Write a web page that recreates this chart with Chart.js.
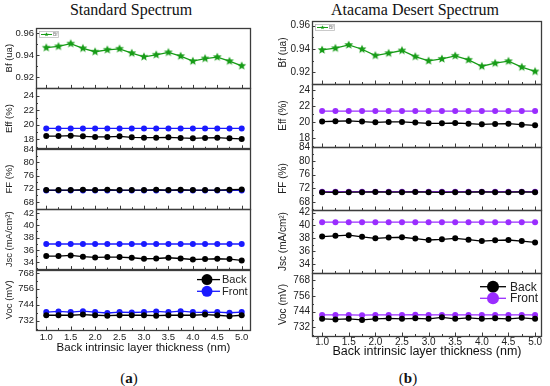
<!DOCTYPE html>
<html>
<head>
<meta charset="utf-8">
<script src="https://cdn.jsdelivr.net/npm/chart.js@4.4.1/dist/chart.umd.min.js"></script>
<style>
  body { margin: 0; width: 550px; height: 386px; background: #fff; position: relative; overflow: hidden; }
  canvas { position: absolute; top: 0; }
  .title { position: absolute; top: 2px; width: 220px; font-family: 'Liberation Serif', serif; font-size: 16px; line-height: 16px; color: #111; text-align: center; white-space: nowrap; }
  .cap { position: absolute; top: 370px; width: 60px; font-family: 'Liberation Serif', serif; font-size: 15px; line-height: 16px; color: #111; text-align: center; }
</style>
</head>
<body>
<div class="title" style="left:21px">Standard Spectrum</div>
<div class="title" style="left:305px">Atacama Desert Spectrum</div>
<canvas id="left" width="275" height="360" style="left:0"></canvas>
<canvas id="right" width="275" height="360" style="left:275px"></canvas>
<div class="cap" style="left:99px">(<b>a</b>)</div>
<div class="cap" style="left:378px">(<b>b</b>)</div>
<script>
// back intrinsic layer thickness (nm)
const thickness = [1.0, 1.25, 1.5, 1.75, 2.0, 2.25, 2.5, 2.75, 3.0, 3.25, 3.5, 3.75, 4.0, 4.25, 4.5, 4.75, 5.0];
const xTicks = [1.0, 1.5, 2.0, 2.5, 3.0, 3.5, 4.0, 4.5, 5.0];

// tick labels of the five stacked axes
const bfTicks = [0.92, 0.94, 0.96];
const effTicks = [18, 20, 22, 24];
const ffTicks = [68, 72, 76, 80, 84];
const jscTicks = [34, 36, 38, 40, 42];
const vocTicks = [732, 744, 756, 768];

// Standard spectrum
const stdBf = [0.9468, 0.9480, 0.9505, 0.9462, 0.9431, 0.9449, 0.9458, 0.9418, 0.9385, 0.9403, 0.9425, 0.9391, 0.9345, 0.9369, 0.9382, 0.9345, 0.9302];
const stdEffBack = [18.45, 18.45, 18.50, 18.41, 18.33, 18.33, 18.41, 18.28, 18.23, 18.23, 18.28, 18.19, 18.14, 18.19, 18.23, 18.14, 18.05];
const stdEffFront = [19.5, 19.5, 19.5, 19.5, 19.5, 19.5, 19.5, 19.5, 19.5, 19.5, 19.5, 19.5, 19.5, 19.5, 19.5, 19.5, 19.5];
const stdFFBack = [71.6, 71.6, 71.6, 71.7, 71.6, 71.7, 71.6, 71.6, 71.6, 71.7, 71.6, 71.7, 71.6, 71.6, 71.6, 71.7, 71.8];
const stdFFFront = [71.5, 71.5, 71.5, 71.5, 71.5, 71.5, 71.5, 71.5, 71.5, 71.5, 71.5, 71.5, 71.5, 71.5, 71.5, 71.5, 71.5];
const stdJscBack = [35.0, 35.0, 35.1, 34.9, 34.78, 34.83, 34.83, 34.72, 34.56, 34.6, 34.72, 34.6, 34.44, 34.5, 34.56, 34.5, 34.28];
const stdJscFront = [36.95, 36.95, 36.95, 36.95, 36.95, 36.95, 36.95, 36.95, 36.95, 36.95, 36.95, 36.95, 36.95, 36.95, 36.95, 36.95, 36.95];
const stdVocBack = [736.1, 736.1, 736.1, 736.6, 736.1, 735.8, 736.1, 736.1, 736.1, 735.8, 736.1, 736.1, 736.1, 736.6, 736.1, 735.4, 736.1];
const stdVocFront = [738.5, 739.0, 738.5, 739.2, 738.5, 737.8, 738.5, 738.2, 738.5, 739.0, 738.5, 739.2, 738.5, 738.2, 738.5, 738.0, 738.5];

// Atacama desert spectrum
const atBf = [0.9391, 0.9406, 0.9434, 0.9397, 0.9343, 0.9363, 0.9386, 0.9334, 0.9297, 0.9314, 0.9340, 0.9306, 0.9251, 0.9277, 0.9294, 0.9243, 0.9206];
const atEffBack = [20.09, 20.13, 20.17, 20.09, 20.0, 20.04, 20.04, 19.96, 19.87, 19.87, 19.91, 19.83, 19.74, 19.79, 19.83, 19.70, 19.62];
const atEffFront = [21.4, 21.4, 21.4, 21.4, 21.4, 21.4, 21.4, 21.4, 21.4, 21.4, 21.4, 21.4, 21.4, 21.4, 21.4, 21.4, 21.4];
const atFFBack = [70.9, 70.85, 70.9, 70.9, 70.95, 70.9, 70.9, 70.95, 70.9, 70.85, 70.9, 70.9, 70.95, 70.9, 70.9, 70.95, 70.9];
const atFFFront = [71.05, 71.05, 71.05, 71.05, 71.05, 71.05, 71.05, 71.05, 71.05, 71.05, 71.05, 71.05, 71.05, 71.05, 71.05, 71.05, 71.05];
const atJscBack = [38.27, 38.38, 38.49, 38.22, 38.0, 38.11, 38.16, 37.95, 37.73, 37.84, 38.0, 37.78, 37.57, 37.68, 37.73, 37.57, 37.35];
const atJscFront = [40.5, 40.5, 40.5, 40.5, 40.5, 40.5, 40.5, 40.5, 40.5, 40.5, 40.5, 40.5, 40.5, 40.5, 40.5, 40.5, 40.5];
const atVocBack = [738.5, 738.1, 738.5, 737.7, 738.5, 738.9, 738.5, 738.9, 738.5, 739.7, 738.5, 739.3, 738.5, 738.9, 738.5, 739.3, 738.5];
const atVocFront = [741.5, 741.5, 741.5, 741.3, 741.5, 741.5, 741.5, 741.7, 741.5, 741.5, 741.5, 741.5, 741.5, 741.5, 741.5, 741.5, 741.5];

const seriesNames = ['Back', 'Front'];

Chart.defaults.font.family = "'Liberation Sans', Arial, sans-serif";
Chart.defaults.color = '#222';

const GREEN = '#179c17';
const BLACK = '#000000';

// filled five point star used as marker
function starImage(color, r) {
    const s = Math.ceil(r * 2 + 2);
    const c = document.createElement('canvas');
    c.width = s; c.height = s;
    const g = c.getContext('2d');
    g.fillStyle = color;
    g.beginPath();
    for (let i = 0; i < 10; i++) {
        const rad = i % 2 ? r * 0.45 : r;
        const a = -Math.PI / 2 + i * Math.PI / 5;
        g.lineTo(s / 2 + rad * Math.cos(a), s / 2 + rad * Math.sin(a));
    }
    g.closePath();
    g.fill();
    return c;
}

function pts(arr) {
    return thickness.map((x, i) => ({ x: x, y: arr[i] }));
}

function lineSet(label, arr, color, axis, r) {
    return {
        label: label, data: pts(arr), yAxisID: axis,
        borderColor: color, backgroundColor: color, borderWidth: 1.3,
        pointRadius: r, pointHoverRadius: r, pointBorderWidth: 0
    };
}

function setTicks(list) {
    return s => { s.ticks = list.map(v => ({ value: v })); };
}

function yScale(title, range, ticks, g, fmt) {
    return {
        type: 'linear', position: 'left', stack: 'col', stackWeight: 1,
        min: range[0], max: range[1],
        grid: { display: false, drawTicks: false },
        border: { display: false },
        afterBuildTicks: setTicks(ticks),
        ticks: {
            autoSkip: false, padding: 2,
            font: { size: g.tickFont }, color: '#222',
            callback: fmt || (v => v)
        },
        title: { display: true, text: title, color: '#222', font: { size: g.tickFont }, padding: { top: g.yTitlePad, bottom: 0 } },
        afterFit: s => { s.width = g.yWidth; }
    };
}

function buildPanel(id, d, g) {
    const star = starImage(GREEN, 4.6);
    const tinyStar = starImage(GREEN, 2.2);
    const datasets = [
        Object.assign(lineSet('Bf', d.bf, GREEN, 'bf', 4), { pointStyle: star }),
        lineSet(seriesNames[0], d.effBack, BLACK, 'eff', 3),
        lineSet(seriesNames[1], d.effFront, d.front, 'eff', 3),
        lineSet(seriesNames[0], d.ffBack, BLACK, 'ff', 3),
        lineSet(seriesNames[1], d.ffFront, d.front, 'ff', 3),
        lineSet(seriesNames[0], d.jscBack, BLACK, 'jsc', 3),
        lineSet(seriesNames[1], d.jscFront, d.front, 'jsc', 3),
        lineSet(seriesNames[0], d.vocBack, BLACK, 'voc', 3),
        lineSet(seriesNames[1], d.vocFront, d.front, 'voc', 3)
    ];

    // frames, inward ticks and the two legends
    const decor = {
        id: 'decor',
        afterDatasetsDraw(chart) {
            const { ctx, chartArea, scales } = chart;
            const L = chartArea.left, R = chartArea.right;
            ctx.save();
            ctx.strokeStyle = '#3c3c3c';
            ctx.lineWidth = 1;
            ['bf', 'eff', 'ff', 'jsc', 'voc'].forEach(k => {
                const s = scales[k];
                const vals = s.ticks.map(t => t.value);
                const step = vals[1] - vals[0];
                ctx.beginPath();
                vals.forEach(tv => {
                    [tv, tv - step / 2, tv + step / 2].forEach((v, j) => {
                        if (v < s.min || v > s.max) return;
                        const py = Math.round(s.getPixelForValue(v)) + 0.5;
                        ctx.moveTo(L, py); ctx.lineTo(L + (j ? 2 : 3.5), py);
                    });
                });
                thickness.forEach((v, j) => {
                    const px = Math.round(scales.x.getPixelForValue(v)) + 0.5;
                    ctx.moveTo(px, s.bottom); ctx.lineTo(px, s.bottom - (j % 2 ? 2 : 3.5));
                });
                ctx.stroke();
                ctx.lineWidth = 1.3;
                ctx.strokeRect(L + 0.5, Math.round(s.top) + 0.5, R - L - 1, Math.round(s.bottom - s.top));
                ctx.lineWidth = 1;
            });

            // Bf legend
            const bf = scales.bf;
            const lx = L + 3, ly = Math.round(bf.top) + 3;
            ctx.strokeStyle = '#bdbdbd'; ctx.lineWidth = 0.8;
            ctx.strokeRect(lx + 0.5, ly + 0.5, 19, 6);
            ctx.strokeStyle = GREEN; ctx.lineWidth = 1;
            ctx.beginPath(); ctx.moveTo(lx + 2, ly + 3.5); ctx.lineTo(lx + 13, ly + 3.5); ctx.stroke();
            ctx.drawImage(tinyStar, lx + 7.5 - tinyStar.width / 2, ly + 3.5 - tinyStar.height / 2);
            ctx.fillStyle = '#777'; ctx.font = "5px 'Liberation Sans'"; ctx.textBaseline = 'middle';
            ctx.fillText('Bf', lx + 14, ly + 3.8);

            // Back / Front legend
            const voc = scales.voc;
            [BLACK, d.front].forEach((c, i) => {
                const y = voc.top + g.legTop + i * g.legGap;
                const x0 = R - g.legX;
                ctx.strokeStyle = c; ctx.lineWidth = 1.3;
                ctx.beginPath(); ctx.moveTo(x0, y); ctx.lineTo(x0 + g.legLen, y); ctx.stroke();
                ctx.fillStyle = c;
                ctx.beginPath(); ctx.arc(x0 + g.legDot, y, g.legR, 0, Math.PI * 2); ctx.fill();
                ctx.fillStyle = '#222'; ctx.font = g.legFont + "px 'Liberation Sans'";
                ctx.fillText(seriesNames[i], x0 + g.legText, y + 0.5);
            });
            ctx.restore();
        }
    };

    new Chart(document.getElementById(id), {
        type: 'line',
        data: { datasets: datasets },
        options: {
            responsive: false, animation: false, devicePixelRatio: 1,
            layout: { padding: { top: g.top, right: g.right, left: 0, bottom: 0 } },
            plugins: { legend: { display: false }, tooltip: { enabled: false } },
            scales: {
                x: {
                    type: 'linear', position: 'bottom', min: g.xRange[0], max: g.xRange[1],
                    grid: { display: false, drawTicks: false }, border: { display: false },
                    afterBuildTicks: setTicks(xTicks),
                    ticks: { autoSkip: false, maxRotation: 0, padding: g.xTickPad,
                             font: { size: g.tickFont }, color: '#222', callback: v => v.toFixed(1) },
                    title: { display: true, text: 'Back intrinsic layer thickness (nm)', color: '#111',
                             font: { size: g.xTitleFont }, padding: { top: 0, bottom: g.xTitlePad } },
                    afterFit: s => { s.height = g.xHeight; }
                },
                voc: yScale('Voc (mV)', d.vocRange, vocTicks, g),
                jsc: yScale('Jsc (mA/cm\u00B2)', d.jscRange, jscTicks, g),
                ff: yScale('FF (%)', d.ffRange, ffTicks, g),
                eff: yScale('Eff (%)', d.effRange, effTicks, g),
                bf: yScale('Bf (ua)', d.bfRange, bfTicks, g, v => v.toFixed(2))
            }
        },
        plugins: [decor]
    });
}

buildPanel('left', {
    bf: stdBf, effBack: stdEffBack, effFront: stdEffFront, ffBack: stdFFBack, ffFront: stdFFFront,
    jscBack: stdJscBack, jscFront: stdJscFront, vocBack: stdVocBack, vocFront: stdVocFront,
    front: '#1a1aff',
    bfRange: [0.9096, 0.9648], effRange: [16.7, 25.0], ffRange: [65.8, 84.1], jscRange: [32.8, 42.6], vocRange: [725, 770.5]
}, {
    top: 28, right: 24, yWidth: 36, xHeight: 30, xRange: [0.79, 5.19],
    tickFont: 9.5, xTitleFont: 11.5, xTickPad: 1.5, xTitlePad: 4.8, yTitlePad: 3.5,
    legX: 54, legLen: 23, legDot: 10, legR: 5.5, legText: 25, legTop: 10, legGap: 11.7, legFont: 11
});

buildPanel('right', {
    bf: atBf, effBack: atEffBack, effFront: atEffFront, ffBack: atFFBack, ffFront: atFFFront,
    jscBack: atJscBack, jscFront: atJscFront, vocBack: atVocBack, vocFront: atVocFront,
    front: '#9a2dff',
    bfRange: [0.9098, 0.964], effRange: [16.9, 24.8], ffRange: [65.7, 84.05], jscRange: [32.6, 42.4], vocRange: [725.5, 773.3]
}, {
    top: 21, right: 8, yWidth: 37, xHeight: 24, xRange: [0.81, 5.13],
    tickFont: 10, xTitleFont: 12.5, xTickPad: 0, xTitlePad: 0.8, yTitlePad: 2,
    legX: 62, legLen: 26, legDot: 13, legR: 6, legText: 30, legTop: 13.7, legGap: 11.6, legFont: 12
});
</script>
</body>
</html>
